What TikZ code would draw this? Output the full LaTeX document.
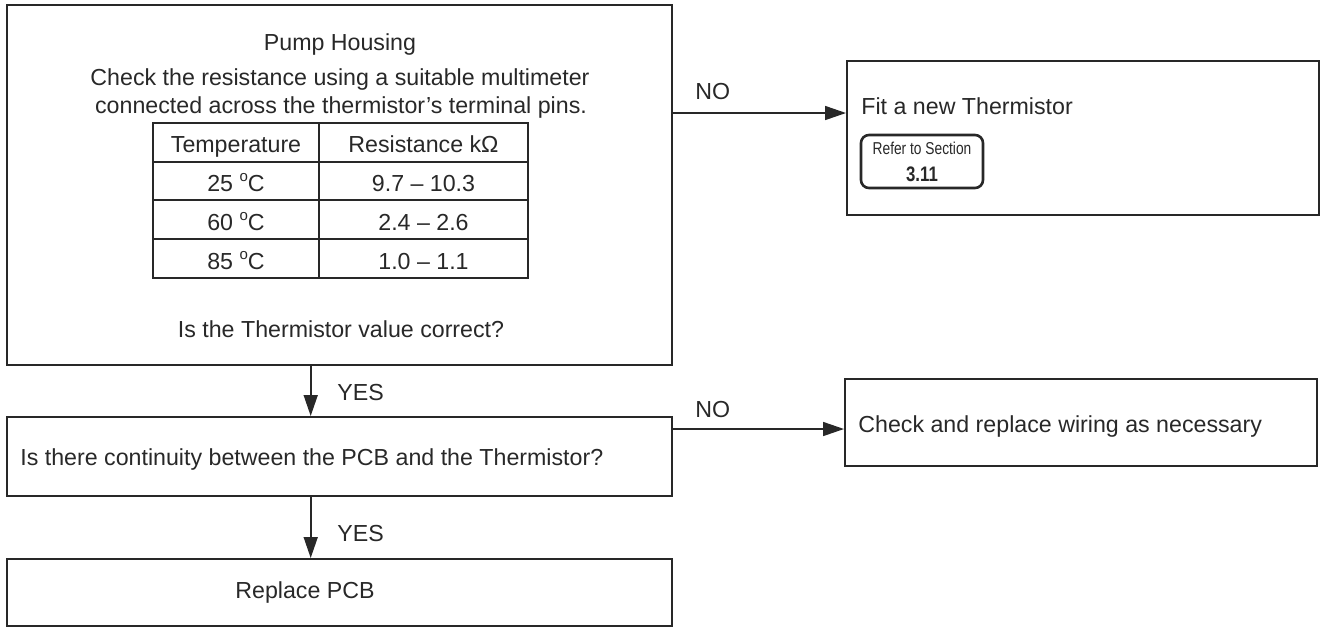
\documentclass[tikz,border=0pt]{standalone}
\usepackage{fontspec}
\setmainfont{Liberation Sans}
\newfontfamily\narrowfont{Liberation Sans}[FakeStretch=0.8]
\usepackage{tikz}
\usetikzlibrary{arrows.meta, positioning, calc}
\definecolor{lineg}{RGB}{40,40,40}

\newcommand{\degc}{\raisebox{0.75ex}{\fontsize{7.5}{8}\selectfont o}C}

\tikzset{
  box/.style={draw=lineg, line width=1pt, inner sep=0pt, minimum width=332.5pt},
  sidebox/.style={box, minimum width=236pt},
  lbl/.style={anchor=base, inner sep=0pt},
  lblw/.style={anchor=base west, inner sep=0pt},
  tbl/.style={draw=lineg, line width=0.6pt},
  conn/.style={draw=lineg, line width=0.8pt, ->},
  refer/.style={draw=lineg, line width=1.3pt, rounded corners=4pt, minimum width=61pt,
    minimum height=26.5pt, inner sep=0pt, align=center}
}

\begin{document}
\begin{tikzpicture}[x=0.5pt, y=-0.5pt, >={Triangle[length=10.5pt, width=7pt]},
  font=\fontsize{11.6}{14}\selectfont, text=lineg]
  \useasboundingbox (0,0) rectangle (1320,634);

  % boxes
  \node[box, minimum height=180pt] (pump) at (339.5,185) {};
  \node[sidebox, minimum height=77pt] (fitnew) at (1083,138) {};
  \node[box, minimum height=39.5pt] (cont) at (339.5,456.5) {};
  \node[sidebox, minimum height=43.5pt] (wiring) at (1081,422.5) {};
  \node[box, minimum height=33.5pt] (pcb) at (339.5,592.5) {};

  % pump housing text
  \node[lbl] (title) at (340,50) {Pump Housing};
  \node[lbl] (check1) at (340,85) {Check the resistance using a suitable multimeter};
  \node[lbl] (check2) at (341,113) {connected across the thermistor’s terminal pins.};

  % table
  \draw[tbl] (153,123) rectangle (528,278);
  \foreach \y in {162,200,239}
    \draw[tbl] (153,\y) -- (528,\y);
  \draw[tbl] (319,123) -- (319,278);
  \node[lbl] (temphead) at (236,152) {Temperature};
  \node[lbl] (reshead) at (423.5,152) {Resistance kΩ};
  \foreach \t/\r/\y [count=\i] in {25/9.7 – 10.3/191, 60/2.4 – 2.6/230, 85/1.0 – 1.1/269} {
    \node[lbl] (temp\i) at (236,\y) {\t\ \degc};
    \node[lbl] (res\i) at (423.5,\y) {\r};
  }
  \node[lbl] (question) at (341,337) {Is the Thermistor value correct?};

  % right side
  \node[lblw] (fittext) at (861,114) {Fit a new Thermistor};
  \node[refer] (sect) at (922,161.5)
    {\narrowfont\fontsize{8.6}{10}\selectfont Refer to Section\\[-0.5pt]
     \narrowfont\bfseries\fontsize{10.5}{10}\selectfont 3.11};
  \node[lblw] (wiretext) at (858,432) {Check and replace wiring as necessary};
  \node[lblw] (conttext) at (20,465) {Is there continuity between the PCB and the Thermistor?};
  \node[lbl] (pcbtext) at (305,598) {Replace PCB};

  % connectors
  \coordinate (no1) at (0,113);
  \coordinate (no2) at (0,429);
  \coordinate (down) at (310.7,0);
  \draw[conn] (pump.east |- no1) -- (no1 -| fitnew.west);
  \draw[conn] (cont.east |- no2) -- (no2 -| wiring.west);
  \draw[conn] (pump.south -| down) -- (cont.north -| down);
  \draw[conn] (cont.south -| down) -- (pcb.north -| down);
  \node[lblw] (no1lbl) at (695,99) {NO};
  \node[lblw] (no2lbl) at (695,417) {NO};
  \node[lblw] (yes1lbl) at (337,400) {YES};
  \node[lblw] (yes2lbl) at (337,541) {YES};
\end{tikzpicture}
\end{document}
